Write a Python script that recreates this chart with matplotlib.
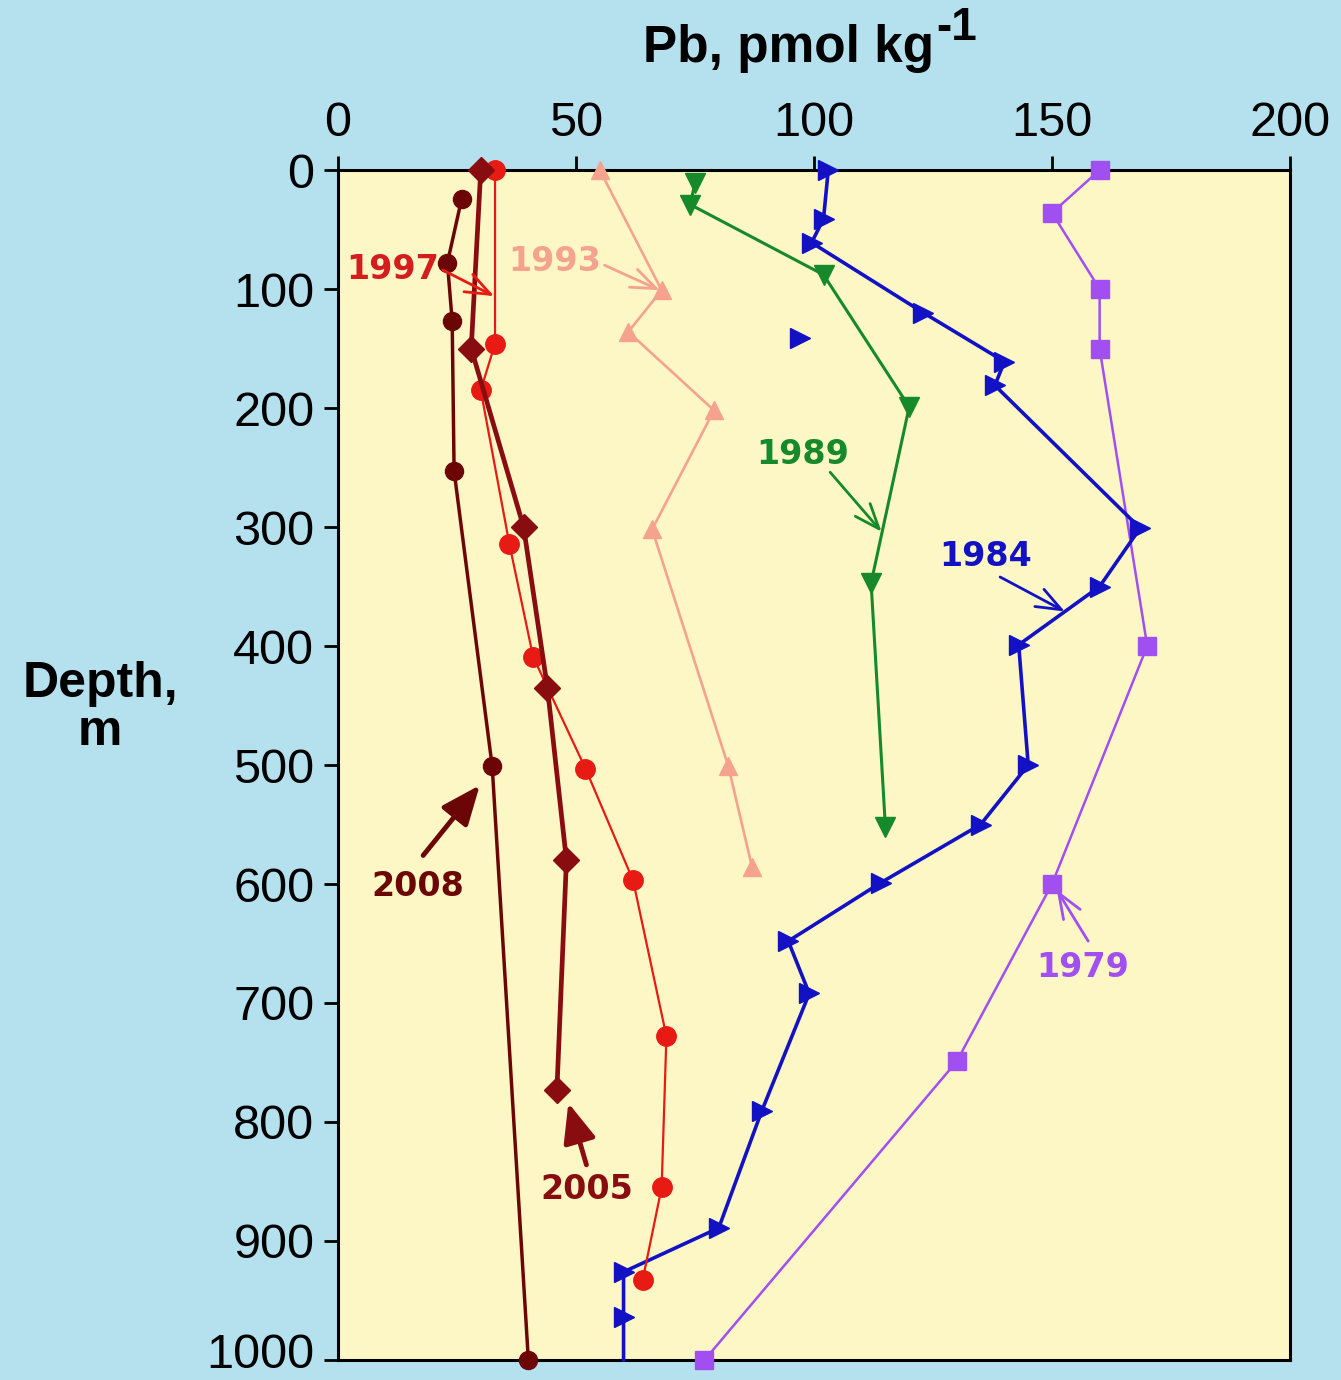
import matplotlib
matplotlib.use('Agg')
import matplotlib.pyplot as plt
from matplotlib.transforms import offset_copy, ScaledTranslation

plt.rcParams['font.family'] = ['Liberation Sans', 'DejaVu Sans']

# Pb profiles, pmol/kg vs depth (m)
pb_2008 = [26, 23, 24, 24.4, 32.4, 40]
z_2008 = [24, 78, 127, 253, 501, 1000]

pb_2005 = [30, 28, 39, 44, 48, 46]
z_2005 = [0, 150, 300, 435, 580, 773]

pb_1997 = [33, 33, 30, 36, 41, 52, 62, 69, 68, 64]
z_1997 = [0, 146, 185, 314, 409, 503, 597, 728, 855, 933]

pb_1993 = [55, 68, 61, 79, 66, 82, 87]
z_1993 = [0, 101, 136, 202, 302, 501, 586]

pb_1989 = [75, 74, 102, 120, 112, 115]
z_1989 = [11, 29, 88, 199, 347, 552]

pb_1984 = [103, 102, 99.5, 123, 140, 138, 168.5, 160, 143, 145, 135, 114,
           94.6, 99, 89, 80, 60, 60, 60]
z_1984 = [0, 41, 61, 120, 161, 181, 301, 350, 399, 500, 550, 599,
          648, 692, 791, 889, 926, 964, 1000]
pb_1984_extra = [97]
z_1984_extra = [141]

pb_1979 = [160, 150, 160, 160, 170, 150, 130, 77]
z_1979 = [0, 36, 100, 150, 400, 600, 749, 1000]

xticks = [0, 50, 100, 150, 200]
yticks = list(range(0, 1001, 100))

c2008 = '#6c0606'
c2005 = '#880c10'
c1997 = '#e81a14'
c1993 = '#f5a38e'
c1989 = '#168a2a'
c1984 = '#1212c4'
c1979 = '#a24ff2'

fig = plt.figure(figsize=(13.41, 13.8), dpi=100)
fig.patch.set_facecolor('#b5e1ef')
ax = fig.add_axes([0.252, 0.0145, 0.710, 0.8623])
ax.set_facecolor('#fdf7c6')

kw = dict(clip_on=False, zorder=4)
ax.plot(pb_1979, z_1979, '-s', color=c1979, lw=1.8, ms=13, mec=c1979, **kw)
ax.plot(pb_1984, z_1984, '-', marker='>', color=c1984, lw=2.6, ms=14,
        markevery=list(range(len(pb_1984) - 1)), **kw)
ax.plot(pb_1984_extra, z_1984_extra, linestyle='none', marker='>', color=c1984, ms=14, **kw)
ax.plot(pb_1989, z_1989, '-v', color=c1989, lw=2.2, ms=14, **kw)
ax.plot(pb_1993, z_1993, '-^', color=c1993, lw=1.9, ms=13, **kw)
ax.plot(pb_1997, z_1997, '-o', color=c1997, lw=1.6, ms=14, **kw)
ax.plot(pb_2005, z_2005, '-D', color=c2005, lw=3.4, ms=13.5, **kw)
ax.plot(pb_2008, z_2008, '-o', color=c2008, lw=2.5, ms=13, **kw)

ax.set_xlim(0, 200)
ax.set_ylim(1000, 0)
ax.xaxis.tick_top()
ax.set_xticks(xticks)
ax.set_yticks(yticks)
ax.tick_params(axis='both', direction='out', length=10, width=2, labelsize=35, pad=7)
for s in ax.spines.values():
    s.set_linewidth(2.2)

# keep the bottom "1000" label inside the figure
lbl = ax.get_yticklabels()[-1]
lbl.set_transform(lbl.get_transform() + ScaledTranslation(0, 7 / 72, fig.dpi_scale_trans))

# year labels and arrows
def note(xy, xytext, color, thick=False):
    if thick:
        ap = dict(arrowstyle='-|>,head_length=1.2,head_width=0.5', color=color,
                  lw=3.5, mutation_scale=20, shrinkA=0, shrinkB=0)
    else:
        ap = dict(arrowstyle='->,head_length=0.9,head_width=0.35', color=color,
                  lw=2, mutation_scale=20, shrinkA=0, shrinkB=0)
    ax.annotate('', xy=xy, xytext=xytext, arrowprops=ap, zorder=5)

lab = dict(fontsize=24, fontweight='bold', family='DejaVu Sans', ha='center', va='center', zorder=6)
ax.text(11.5, 84, '1997', color='#d41e1e', **lab)
note((32.8, 106), (22, 84), c1997)
ax.text(45.6, 77, '1993', color=c1993, **lab)
note((67.6, 101), (56, 80), c1993)
ax.text(97.7, 239, '1989', color=c1989, **lab)
note((114.2, 304), (103.4, 254), c1989)
ax.text(136.1, 325, '1984', color=c1984, **lab)
note((152.7, 371), (139.1, 342), c1984)
ax.text(156.4, 670, '1979', color=c1979, **lab)
note((151, 605), (157.6, 648), c1979)
ax.text(16.8, 602, '2008', color=c2008, **lab)
note((29.8, 517), (17.9, 576), c2008, thick=True)
ax.text(52.2, 857, '2005', color=c2005, **lab)
note((48.4, 784), (52.2, 836), c2005, thick=True)

# x axis title with superscript
t = fig.text(643 / 1341, 1 - 62 / 1380, 'Pb, pmol kg', fontsize=37,
             fontweight='bold', ha='left', va='baseline')
fig.canvas.draw()
bb = t.get_window_extent()
fig.text(bb.x1 / fig.bbox.width + 0.002, 1 - 62 / 1380, '-1', fontsize=33,
         fontweight='bold', ha='left', va='baseline',
         transform=offset_copy(fig.transFigure, fig=fig, y=16, units='points'))

fig.text(100 / 1341, 1 - 708 / 1380, 'Depth,\nm', fontsize=36, fontweight='bold',
         ha='center', va='center', linespacing=1.05)

fig.savefig('out.png', dpi=100, facecolor=fig.get_facecolor())
